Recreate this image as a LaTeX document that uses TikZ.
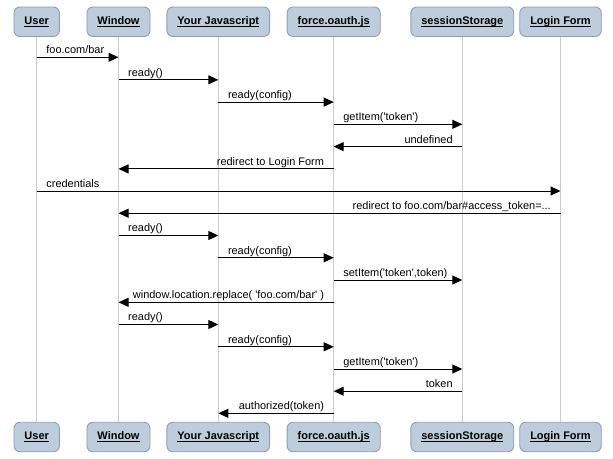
\documentclass[tikz,border=0pt]{standalone}
\usepackage{fontspec}
\setmainfont{Liberation Sans}
\usetikzlibrary{arrows.meta}

\definecolor{actorfill}{RGB}{189,205,219}
\definecolor{actorline}{RGB}{140,158,190}
\definecolor{lifegray}{RGB}{204,204,204}

% underlined participant title
\newcommand{\hd}[1]{\sbox0{#1}\rlap{\rule[-2pt]{\wd0}{0.9pt}}\usebox0}
\newcommand{\sq}{\textquotesingle}

% message from participant #2 to participant #3 at height #4 (label on the left end)
\newcommand{\msgR}[5]{%
  \coordinate (#1a) at (#2T |- 0,#4);
  \coordinate (#1b) at (#3T |- 0,#4);
  \draw[msgline] (#1a) -- (#1b);
  \node[msglabel, anchor=base west, xshift=9.5pt] (#1t) at (#1a) {#5};
}
% message running right to left (label on the right end)
\newcommand{\msgL}[5]{%
  \coordinate (#1a) at (#2T |- 0,#4);
  \coordinate (#1b) at (#3T |- 0,#4);
  \draw[msgline] (#1a) -- (#1b);
  \node[msglabel, anchor=base east, xshift=-9.5pt] (#1t) at (#1a) {#5};
}

\begin{document}
\begin{tikzpicture}[x=1pt, y=-1pt,
  actor/.style={draw=actorline, fill=actorfill, line width=0.9pt,
    rounded corners=6pt, minimum height=29.5pt, inner xsep=10.5pt,
    font=\fontsize{11}{13}\selectfont\bfseries},
  lifeline/.style={draw=lifegray, line width=1pt},
  msgline/.style={line width=1pt, -{Triangle[length=10pt, width=9pt]}},
  msglabel/.style={font=\fontsize{10.95}{13}\selectfont, inner sep=0pt, yshift=3.6pt}]
\useasboundingbox (0,0) rectangle (613,458);

% participants, top row
\node[actor] (uT) at (36.7,21.75)  {\hd{User}};
\node[actor] (wT) at (118.5,21.75) {\hd{Window}};
\node[actor] (jT) at (218.3,21.75) {\hd{Your Javascript}};
\node[actor] (fT) at (333.7,21.75) {\hd{force.oauth.js}};
\node[actor] (sT) at (462.3,21.75) {\hd{sessionStorage}};
\node[actor] (lT) at (560.5,21.75) {\hd{Login Form}};

% participants, bottom row
\node[actor] (uB) at (36.7,437)  {\hd{User}};
\node[actor] (wB) at (118.5,437) {\hd{Window}};
\node[actor] (jB) at (218.3,437) {\hd{Your Javascript}};
\node[actor] (fB) at (333.7,437) {\hd{force.oauth.js}};
\node[actor] (sB) at (462.3,437) {\hd{sessionStorage}};
\node[actor] (lB) at (560.5,437) {\hd{Login Form}};

% lifelines
\foreach \p in {u,w,j,f,s,l}
  \draw[lifeline] (\p T.south) -- (\p B.north);

% messages
\msgR{m1}{u}{w}{57.3}{foo.com/bar}
\msgR{m2}{w}{j}{79.8}{ready()}
\msgR{m3}{j}{f}{102.1}{ready(config)}
\msgR{m4}{f}{s}{124.3}{getItem(\sq token\sq)}
\msgL{m5}{s}{f}{146.6}{undefined}
\msgL{m6}{f}{w}{168.9}{redirect to Login Form}
\msgR{m7}{u}{l}{191.0}{credentials}
\msgL{m8}{l}{w}{213.2}{redirect to foo.com/bar\#access\_token=...}
\msgR{m9}{w}{j}{235.5}{ready()}
\msgR{m10}{j}{f}{257.8}{ready(config)}
\msgR{m11}{f}{s}{280.0}{setItem(\sq token\sq,token)}
\msgL{m12}{f}{w}{302.3}{window.location.replace( \sq foo.com/bar\sq\ )}
\msgR{m13}{w}{j}{324.5}{ready()}
\msgR{m14}{j}{f}{346.8}{ready(config)}
\msgR{m15}{f}{s}{369.0}{getItem(\sq token\sq)}
\msgL{m16}{s}{f}{391.2}{token}
\msgL{m17}{f}{j}{413.3}{authorized(token)}
\end{tikzpicture}
\end{document}
